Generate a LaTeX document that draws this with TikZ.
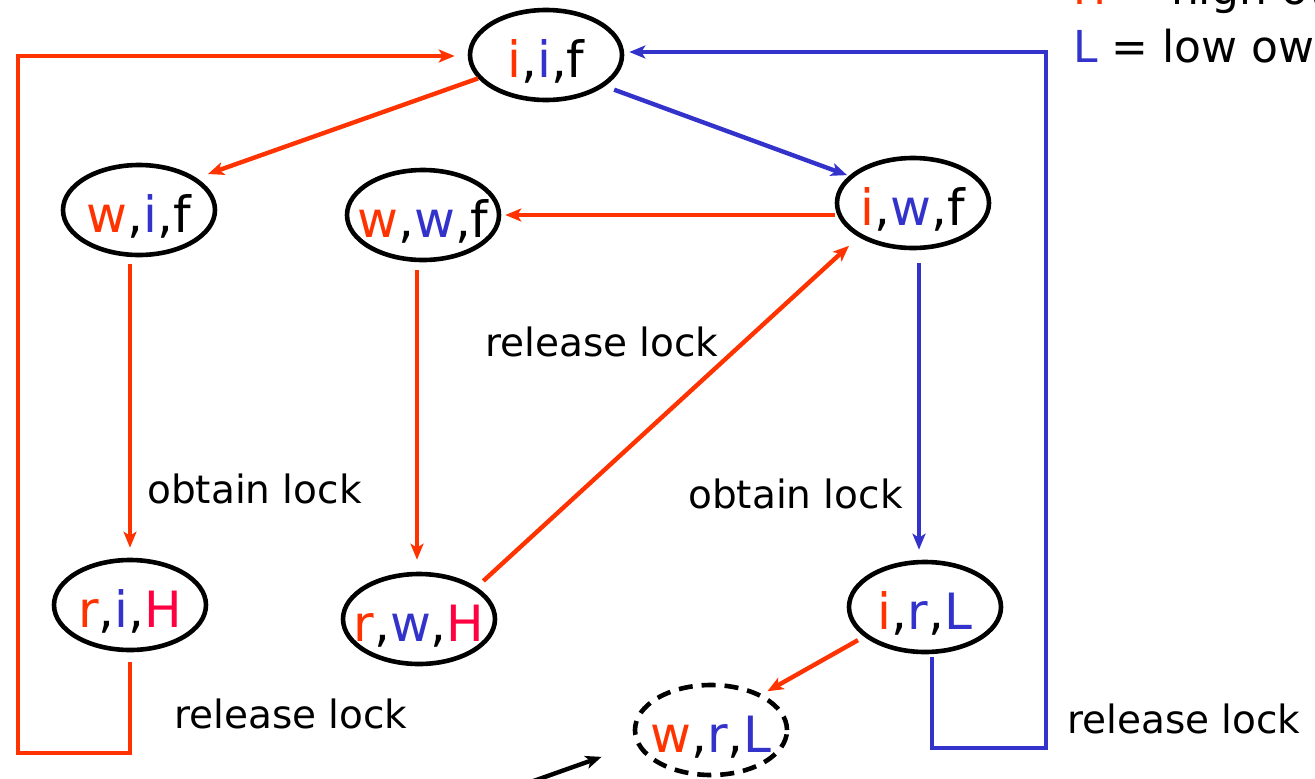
\documentclass[tikz,border=0pt]{standalone}
\usepackage{fontspec}
\setmainfont{DejaVu Sans}
\usetikzlibrary{arrows.meta,calc,shapes.geometric}

\definecolor{redo}{RGB}{255,51,0}
\definecolor{bluo}{RGB}{51,51,204}
\definecolor{hcol}{RGB}{255,0,64}

% state label: three coloured letters, baseline a bit below the ellipse centre
\newcommand\stlabel[3]{\raisebox{-22pt}[0pt][0pt]{\makebox[0pt]{\fontsize{50}{56}\selectfont #1,#2,#3}}}
\newcommand\rd[1]{\textcolor{redo}{#1}}
\newcommand\bl[1]{\textcolor{bluo}{#1}}
\newcommand\hc[1]{\textcolor{hcol}{#1}}

\begin{document}
\begin{tikzpicture}[x=1pt,y=-1pt,
  state/.style={ellipse, draw=black, line width=4.6pt, minimum width=152pt,
    minimum height=90pt, inner sep=0pt},
  ghost/.style={state, dash pattern=on 14pt off 9pt},
  tip/.style={-{Stealth[length=16pt,width=13pt,inset=4pt]}},
  redarr/.style={draw=redo, line width=4.4pt, line join=miter, tip},
  bluarr/.style={draw=bluo, line width=4.4pt, line join=miter, tip},
  blkarr/.style={draw=black, line width=4.4pt, tip},
  lab/.style={anchor=base west, inner sep=0pt, font=\fontsize{39}{44}\selectfont},
  legend/.style={anchor=base west, inner sep=0pt, font=\fontsize{44}{50}\selectfont}]

\useasboundingbox (0,0) rectangle (1315,779);
\clip (0,0) rectangle (1315,779);

% states
\node[state] (iif) at (546,55)  {\stlabel{\rd{i}}{\bl{i}}{f}};
\node[state] (wif) at (139,210) {\stlabel{\rd{w}}{\bl{i}}{f}};
\node[state] (wwf) at (423,215) {\stlabel{\rd{w}}{\bl{w}}{f}};
\node[state] (iwf) at (913,203) {\stlabel{\rd{i}}{\bl{w}}{f}};
\node[state] (riH) at (130,605) {\stlabel{\rd{r}}{\bl{i}}{\hc{H}}};
\node[state] (rwH) at (419,619) {\stlabel{\rd{r}}{\bl{w}}{\hc{H}}};
\node[state] (irL) at (925,607) {\stlabel{\rd{i}}{\bl{r}}{\bl{L}}};
\node[ghost] (wrL) at (711,730) {\stlabel{\rd{w}}{\bl{r}}{\bl{L}}};

% legend
\node[legend] (legH) at (1073,5)  {\rd{H} = high owner};
\node[legend] (legL) at (1073,62) {\bl{L} = low owner};

% edge labels
\node[lab] (rl1) at (485,356) {release lock};
\node[lab] (ol1) at (147,503) {obtain lock};
\node[lab] (ol2) at (688,508) {obtain lock};
\node[lab] (rl2) at (174,728) {release lock};
\node[lab] (rl3) at (1067,733) {release lock};

% corner points of the two return paths
\coordinate (rc1) at (18,753);
\coordinate (rc2) at (18,56);
\coordinate (bc1) at (1046,748);
\coordinate (bc2) at (1046,52);
\coordinate (bs) at ($(irL.south)+(7,0)$);
\coordinate (bv) at ($(iwf.south)+(6,0)$);
\coordinate (rv) at ($(wwf.south)+(-6,0)$);
\coordinate (ba0) at (463,806);

% transitions
\draw[redarr, shorten >=12pt] (iif.199) -- (wif.29);
\draw[bluarr, shorten <=10pt, shorten >=2pt] (iif.332) -- (iwf.157);
\draw[redarr, shorten >=4pt] (wwf.east -| iwf.west) -- (wwf.east);
\draw[redarr, shorten <=7pt, shorten >=10pt] (riH.north |- wif.south) -- (riH.north);
\draw[redarr, shorten <=8pt, shorten >=12pt] (rv) -- (rv |- rwH.north);
\draw[redarr, shorten <=9pt, shorten >=13pt] (rwH.29) -- (iwf.212);
\draw[bluarr, shorten <=13pt, shorten >=10pt] (bv) -- (bv |- irL.north);
\draw[redarr, shorten <=7pt, shorten >=6pt] (irL.206) -- (wrL.35);

% release paths back to the initial state
\draw[redarr, shorten <=10pt, shorten >=13pt] (riH.south) |- (rc1) -- (rc2) -- (iif.west |- rc2);
\draw[bluarr, shorten <=3pt, shorten >=5pt] (bs) |- (bc1) -- (bc2) -- (iif.east |- bc2);

% pointer to the unreachable state
\draw[blkarr, shorten >=37pt] (ba0) -- (wrL.191);

\end{tikzpicture}
\end{document}
